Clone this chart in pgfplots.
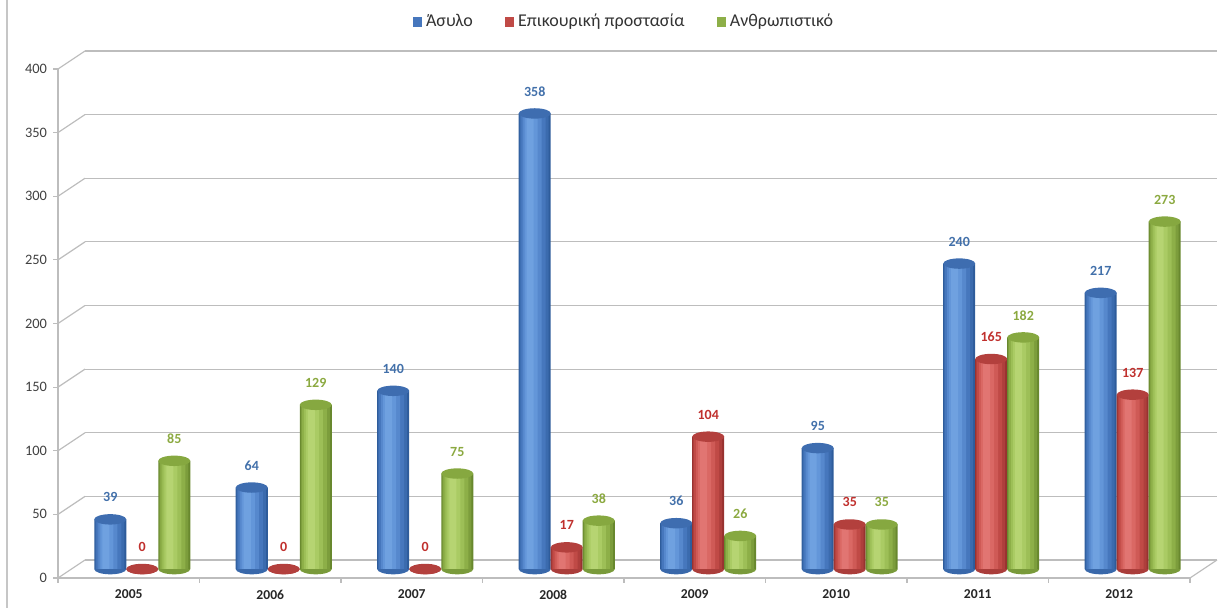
\documentclass[border=0pt]{standalone}
\usepackage{pgfplots}
\usepackage{pgfplotstable}
\pgfplotsset{compat=1.18}
\usetikzlibrary{shapes.geometric}
\usepackage{fontspec}
\setmainfont{Carlito}

\definecolor{bluelighter}{HTML}{6FA1E0}
\definecolor{bluelight}{HTML}{6396D9}
\definecolor{bluemid}{HTML}{5688CD}
\definecolor{bluebase}{HTML}{4677BD}
\definecolor{bluedark}{HTML}{2E5C9B}
\definecolor{bluetop}{HTML}{3E6DB0}
\definecolor{redlighter}{HTML}{E17572}
\definecolor{redlight}{HTML}{DA6864}
\definecolor{redmid}{HTML}{CF5A56}
\definecolor{redbase}{HTML}{C04A46}
\definecolor{reddark}{HTML}{983230}
\definecolor{redtop}{HTML}{B3403D}
\definecolor{greenlighter}{HTML}{B6D472}
\definecolor{greenlight}{HTML}{AACB64}
\definecolor{greenmid}{HTML}{9DBF57}
\definecolor{greenbase}{HTML}{8DAF48}
\definecolor{greendark}{HTML}{68882E}
\definecolor{greentop}{HTML}{86A840}
\definecolor{gridgray}{HTML}{BDBDBD}
\definecolor{bluelab}{HTML}{4270AA}
\definecolor{redlab}{HTML}{C0302D}
\definecolor{greenlab}{HTML}{8BA940}

\pgfplotstableread{
year asylo epik anthr
0    39    0    85
1    64    0    129
2    140   0    75
3    358   17   38
4    36    104  26
5    95    35   35
6    240   165  182
7    217   137  273
}\refugees

\newcommand\labfont{\fontsize{7}{8}\selectfont\bfseries}

% one cylinder series, drawn as nested bands for the rounded shading:
% #1 column, #2 centre shift (pt), #3..#7 dark/base/mid/light/lighter,
% #8 top colour, #9 label colour
\newcommand\cylseries[9]{%
  \addplot[cyl, fill=#3, bar width=16pt, bar shift=#2pt] table[x=year, y=#1] {\refugees};
  \addplot[cyl, fill=#3!45!#4, bar width=14.5pt, bar shift=#2pt-0.25pt] table[x=year, y=#1] {\refugees};
  \addplot[cyl, fill=#4, bar width=12.5pt, bar shift=#2pt-0.75pt] table[x=year, y=#1] {\refugees};
  \addplot[cyl, fill=#5, bar width=9.5pt, bar shift=#2pt-1.25pt] table[x=year, y=#1] {\refugees};
  \addplot[cyl, fill=#6, bar width=6.5pt, bar shift=#2pt-1.75pt] table[x=year, y=#1] {\refugees};
  \addplot[cyl, fill=#7, bar width=3.5pt, bar shift=#2pt-2.25pt] table[x=year, y=#1] {\refugees};
  % rounded foot: a flattened half disc hanging below the base
  % (0.63625pt per unit below the top of the cylinder)
  \addplot[cyl, fill=none, bar width=16pt, bar shift=#2pt,
    visualization depends on={\thisrow{#1} \as \cylval},
    nodes near coords={},
    every node near coord/.style={shape=semicircle, shape border rotate=180,
      fill=#3!55!#4, minimum width=16pt, minimum height=8pt, inner sep=0pt,
      anchor=chord center, xshift=#2pt, yshift=-\cylval*0.63625pt,
      yscale=0.325, transform shape}]
    table[x=year, y=#1] {\refugees};
  \addplot[cyl, fill=none, bar width=16pt, bar shift=#2pt,
    nodes near coords={},
    every node near coord/.style={ellipse, fill=#8, minimum width=16pt,
      minimum height=5.2pt, inner sep=0pt, anchor=center, xshift=#2pt}]
    table[x=year, y=#1] {\refugees};
  \addplot[cyl, fill=none, bar width=16pt, bar shift=#2pt,
    nodes near coords,
    every node near coord/.style={font=\labfont, text=#9, anchor=center,
      xshift=#2pt, yshift=11pt}]
    table[x=year, y=#1] {\refugees};
}

\begin{document}
\begin{tikzpicture}
\useasboundingbox (0,0) rectangle (613pt,304pt);
\draw[gray!45, line width=0.8pt] (3.5pt,0) -- (3.5pt,304pt);

% back wall with horizontal grid
\begin{axis}[
  at={(42.5pt,24pt)}, anchor=south west,
  scale only axis, width=566pt, height=254.5pt,
  xmin=-0.5, xmax=7.5, ymin=0, ymax=400,
  axis line style={draw=none},
  xtick=\empty, ytick={0,50,...,400}, yticklabels={},
  major tick length=0pt,
  ymajorgrids, major grid style={gridgray, line width=0.6pt},
]
\end{axis}

% side connectors of the grid and the floor
\foreach \k in {0,...,8}
  \draw[gridgray, line width=0.6pt] (29pt,15pt+\k*31.8125pt) -- (42.5pt,24pt+\k*31.8125pt);
\draw[gridgray, line width=0.6pt] (595pt,15pt) -- (608.5pt,24pt);

% front frame: value axis and category axis
\begin{axis}[
  at={(29pt,15pt)}, anchor=south west,
  scale only axis, width=566pt, height=254.5pt,
  xmin=-0.5, xmax=7.5, ymin=0, ymax=400,
  axis x line*=bottom, axis y line*=left,
  axis line style={-, gridgray, line width=0.6pt},
  tick align=outside, major tick length=2.5pt,
  tick style={gridgray, line width=0.6pt},
  ytick={0,50,...,400},
  yticklabel style={font=\fontsize{7.2}{8}\selectfont, text=black!75, xshift=0.5pt},
  /pgf/number format/assume math mode=true,
  xtick={-0.5,0.5,...,7.5}, xticklabels={},
  extra x ticks={0,1,2,3,4,5,6,7},
  extra x tick labels={2005,2006,2007,2008,2009,2010,2011,2012},
  extra x tick style={major tick length=0pt,
    xticklabel style={font=\fontsize{6.8}{7}\selectfont\bfseries, text=black!85, yshift=-2.5pt}},
]
\end{axis}

% cylinders
\begin{axis}[
  at={(35.75pt,19.5pt)}, anchor=south west,
  scale only axis, width=566pt, height=254.5pt,
  xmin=-0.5, xmax=7.5, ymin=0, ymax=400,
  hide axis, clip=false,
  /pgf/number format/assume math mode=true,
  cyl/.style={ybar, draw=none, forget plot},
  legend style={draw=none, fill=none, legend columns=-1,
    font=\fontsize{9}{10}\selectfont, text=black!80,
    at={(0.489,1.0747)}, anchor=center,
    /tikz/every even column/.append style={column sep=14pt}},
  legend image code/.code={\fill[#1] (0pt,-2.3pt) rectangle (4.6pt,2.3pt);},
]
\addlegendimage{fill=bluebase, draw=none}
\addlegendentry{Άσυλο}
\addlegendimage{fill=redbase, draw=none}
\addlegendentry{Επικουρική προστασία}
\addlegendimage{fill=greenbase, draw=none}
\addlegendentry{Ανθρωπιστικό}

\cylseries{asylo}{-16}{bluedark}{bluebase}{bluemid}{bluelight}{bluelighter}{bluetop}{bluelab}
\cylseries{epik}{0}{reddark}{redbase}{redmid}{redlight}{redlighter}{redtop}{redlab}
\cylseries{anthr}{16}{greendark}{greenbase}{greenmid}{greenlight}{greenlighter}{greentop}{greenlab}
\end{axis}
\end{tikzpicture}
\end{document}
